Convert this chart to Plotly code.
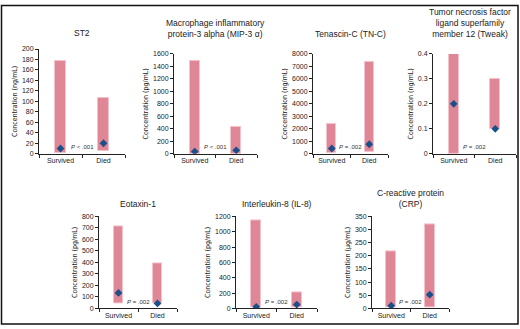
import plotly.graph_objects as go

W, H = 520, 329

titles = ["ST2",
          "Macrophage inflammatory<br>protein-3 alpha (MIP-3 α)",
          "Tenascin-C (TN-C)",
          "Tumor necrosis factor<br>ligand superfamily<br>member 12 (Tweak)",
          "Eotaxin-1",
          "Interleukin-8 (IL-8)",
          "C-reactive protein<br>(CRP)"]
units = ["ng/mL", "pg/mL", "ng/mL", "ng/mL", "pg/mL", "pg/mL", "μg/mL"]
groups = ["Survived", "Died"]

low_survived = [2, 5, 100, 0, 43, 8, 3]
high_survived = [177, 1480, 2370, 0.4, 711, 1144, 217]
median_survived = [10, 35, 420, 0.2, 134, 20, 10]
low_died = [5, 5, 150, 0.1, 43, 8, 3]
high_died = [107, 430, 7340, 0.3, 391, 210, 319]
median_died = [20, 55, 760, 0.1, 43, 50, 52]
p_values = ["<i>P</i> < .001", "<i>P</i> < .001", "<i>P</i> = .002", "<i>P</i> = .002",
            "<i>P</i> = .002", "<i>P</i> = .002", "<i>P</i> = .002"]

y_max = [200, 1600, 8000, 0.4, 800, 1200, 350]
y_dtick = [20, 200, 1000, 0.1, 100, 200, 50]

# layout boxes in pixels: (x_left, x_right, y_bottom, y_top)
boxes = [(39, 125, 153, 46), (174, 257, 153, 51), (313, 388, 153, 51), (433, 516, 153, 51),
         (99, 177, 311, 217), (236, 317, 311, 217), (372, 449, 311, 217)]
title_bottom = [37, 38, 38, 38, 211, 211, 211]

FONT = "Liberation Sans, Arial, sans-serif"
NARROW = "Liberation Sans Narrow, Arial Narrow, DejaVu Sans Condensed, sans-serif"
BAR = "#DF8797"
BAR_EDGE = "#F3C3CB"
DIAM = "#1B4F8A"

def fx(p):
    return p / W

def fy(p):
    return 1 - p / H

fig = go.Figure()
annotations = []
for i in range(7):
    n = "" if i == 0 else str(i + 1)
    xa, ya = "x" + n, "y" + n
    lows = [low_survived[i], low_died[i]]
    highs = [high_survived[i], high_died[i]]
    meds = [median_survived[i], median_died[i]]
    fig.add_trace(go.Bar(x=groups, y=[h - l for h, l in zip(highs, lows)], base=lows,
                         width=0.25, marker=dict(color=BAR, line=dict(color=BAR_EDGE, width=1)),
                         xaxis=xa, yaxis=ya, showlegend=False, hoverinfo="skip"))
    fig.add_trace(go.Scatter(x=groups, y=meds, mode="markers",
                             marker=dict(symbol="diamond", size=6, color=DIAM),
                             xaxis=xa, yaxis=ya, showlegend=False))
    xl, xr, yb, yt = boxes[i]
    fig.update_layout(**{
        "xaxis" + n: dict(domain=[fx(xl), fx(xr)], anchor=ya, type="category",
                          categoryorder="array", categoryarray=groups,
                          range=[-0.5, 1.5], tickson="boundaries", ticks="outside",
                          ticklen=3, tickwidth=1, tickcolor="#222", showline=True,
                          linecolor="#222", linewidth=1, showgrid=False,
                          tickfont=dict(family=FONT, size=7, color="#222"), fixedrange=True),
        "yaxis" + n: dict(domain=[fy(yb), fy(yt)], anchor=xa, range=[0, y_max[i]],
                          dtick=y_dtick[i], tick0=0, ticks="outside", ticklen=3, tickwidth=1,
                          tickcolor="#222", showline=True, linecolor="#222", linewidth=1,
                          showgrid=False, zeroline=False,
                          tickfont=dict(family=FONT, size=7, color="#222"),
                          title=dict(text="Concentration (" + units[i] + ")", standoff=3,
                                     font=dict(family=NARROW, size=7, color="#222"))),
    })
    tx = (xl + xr) / 2 if i != 3 else 470
    annotations.append(dict(text=titles[i], x=fx(tx), y=fy(title_bottom[i]),
                            xref="paper", yref="paper", xanchor="center", yanchor="bottom",
                            showarrow=False, font=dict(family=FONT, size=8.5, color="#222")))
    annotations.append(dict(text=p_values[i], x=fx((xl + xr) / 2), y=fy(yb - 7),
                            xref="paper", yref="paper", xanchor="center", yanchor="middle",
                            showarrow=False, font=dict(family=FONT, size=6, color="#333")))

fig.update_layout(
    width=W, height=H, margin=dict(l=0, r=0, t=0, b=0),
    paper_bgcolor="white", plot_bgcolor="white", bargap=0,
    annotations=annotations,
    shapes=[dict(type="rect", xref="paper", yref="paper", x0=fx(1.5), x1=fx(518), y0=fy(327), y1=fy(1.5),
                 line=dict(color="#111", width=1.5))],
)

fig.write_html("out.html", config={"displayModeBar": False},
               post_script="document.body.style.margin='0';document.body.style.overflow='hidden';")
